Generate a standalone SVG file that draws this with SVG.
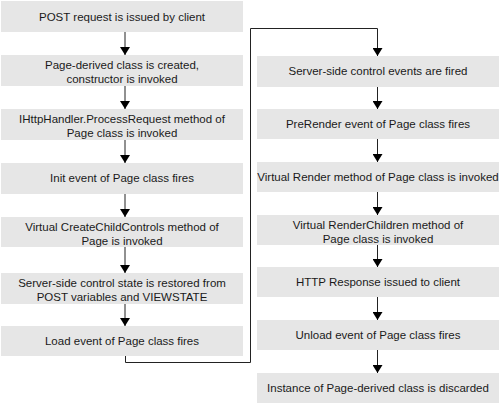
<svg xmlns="http://www.w3.org/2000/svg" width="500" height="404" viewBox="0 0 500 404">
<defs>
<marker id="ah" markerWidth="8" markerHeight="10" refX="8" refY="5" orient="auto" markerUnits="userSpaceOnUse">
<path d="M0,0 L8,5 L0,10 Z" fill="#000"/>
</marker>
<style>
.box{fill:#e6e6e6;}
text{font-family:"Liberation Sans",Arial,sans-serif;font-size:11.5px;fill:#1a1a1a;text-anchor:middle;}
.c{fill:none;stroke:#222;stroke-width:1;}
</style>
</defs>
<rect width="500" height="404" fill="#fff"/>
<g id="n1"><rect class="box" x="1" y="1" width="242" height="31"/><text x="122" y="21">POST request is issued by client</text></g>
<g id="n2"><rect class="box" x="1" y="55" width="242" height="31"/><text x="122" y="69">Page-derived class is created,</text><text x="122" y="83">constructor is invoked</text></g>
<g id="n3"><rect class="box" x="1" y="109" width="242" height="31"/><text x="122" y="123">IHttpHandler.ProcessRequest method of</text><text x="122" y="137">Page class is invoked</text></g>
<g id="n4"><rect class="box" x="1" y="163" width="242" height="31"/><text x="122" y="182">Init event of Page class fires</text></g>
<g id="n5"><rect class="box" x="1" y="217" width="242" height="30"/><text x="122" y="231">Virtual CreateChildControls method of</text><text x="122" y="245">Page is invoked</text></g>
<g id="n6"><rect class="box" x="1" y="273" width="242" height="31"/><text x="122" y="287">Server-side control state is restored from</text><text x="122" y="301">POST variables and VIEWSTATE</text></g>
<g id="n7"><rect class="box" x="1" y="326" width="242" height="30"/><text x="122" y="345">Load event of Page class fires</text></g>
<g id="n8"><rect class="box" x="257" y="56" width="242" height="31"/><text x="378" y="75">Server-side control events are fired</text></g>
<g id="n9"><rect class="box" x="257" y="109" width="242" height="30"/><text x="378" y="128">PreRender event of Page class fires</text></g>
<g id="n10"><rect class="box" x="257" y="162" width="242" height="30"/><text x="378" y="181">Virtual Render method of Page class is invoked</text></g>
<g id="n11"><rect class="box" x="257" y="215" width="242" height="30"/><text x="378" y="229">Virtual RenderChildren method of</text><text x="378" y="243">Page class is invoked</text></g>
<g id="n12"><rect class="box" x="257" y="267" width="242" height="30"/><text x="378" y="286">HTTP Response issued to client</text></g>
<g id="n13"><rect class="box" x="257" y="320" width="242" height="30"/><text x="378" y="339">Unload event of Page class fires</text></g>
<g id="n14"><rect class="box" x="257" y="373" width="242" height="30"/><text x="378" y="392">Instance of Page-derived class is discarded</text></g>
<g id="connectors">
<path class="c" d="M125,32 V55" marker-end="url(#ah)"/>
<path class="c" d="M125,86 V109" marker-end="url(#ah)"/>
<path class="c" d="M125,140 V163" marker-end="url(#ah)"/>
<path class="c" d="M125,194 V217" marker-end="url(#ah)"/>
<path class="c" d="M125,247 V273" marker-end="url(#ah)"/>
<path class="c" d="M125,304 V326" marker-end="url(#ah)"/>
<path class="c" d="M125.5,356 V362.5 H250.5 V28.5 H377.5 V56" marker-end="url(#ah)"/>
<path class="c" d="M377.5,87 V109" marker-end="url(#ah)"/>
<path class="c" d="M377.5,139 V162" marker-end="url(#ah)"/>
<path class="c" d="M377.5,192 V215" marker-end="url(#ah)"/>
<path class="c" d="M377.5,245 V267" marker-end="url(#ah)"/>
<path class="c" d="M377.5,297 V320" marker-end="url(#ah)"/>
<path class="c" d="M377.5,350 V373" marker-end="url(#ah)"/>
</g>
</svg>
